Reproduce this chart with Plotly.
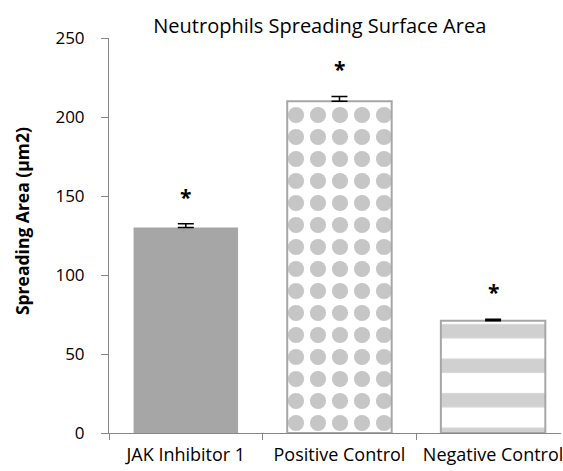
import plotly.graph_objects as go

categories = ["JAK Inhibitor 1", "Positive Control", "Negative Control"]
values = [130, 210, 71]
errors = [2.5, 3, 1]
sig_labels = ["*", "*", "*"]
y_ticks = [0, 50, 100, 150, 200, 250]
y_title = "Spreading Area (µm2)"

FONT = "Open Sans, Noto Sans, sans-serif"

fig = go.Figure()
patterns = [
    dict(shape=""),
    dict(shape=".", size=22, solidity=0.42, fgcolor="#c6c6c6", bgcolor="white", fillmode="replace"),
    dict(shape="-", size=34.5, solidity=0.42, fgcolor="#d0d0d0", bgcolor="white", fillmode="replace"),
]
fills = ["#a6a6a6", "white", "white"]
for i, c in enumerate(categories):
    fig.add_trace(go.Bar(
        x=[c], y=[values[i]],
        width=0.68,
        marker=dict(color=fills[i], pattern=patterns[i],
                    line=dict(color="#a6a6a6", width=2 if i else 0)),
        error_y=dict(type="data", array=[errors[i]], arrayminus=[0], symmetric=False,
                     color="black", thickness=1.5, width=8),
        showlegend=False,
    ))

for i, c in enumerate(categories):
    fig.add_annotation(x=c, y=values[i] + errors[i], yshift=11, text="<b>" + sig_labels[i] + "</b>",
                       showarrow=False, yanchor="bottom",
                       font=dict(size=21, color="black", family=FONT))

fig.add_annotation(xref="paper", yref="paper", x=-0.192, y=0.537, text="<b>" + y_title + "</b>",
                   textangle=-90, showarrow=False, xanchor="center", yanchor="middle",
                   font=dict(size=17.5, color="black", family=FONT))

fig.update_layout(
    width=563, height=471,
    margin=dict(l=109, r=0, t=38, b=38),
    paper_bgcolor="white", plot_bgcolor="white",
    barmode="overlay",
    title=dict(text="Neutrophils Spreading Surface Area", x=0.568, xanchor="center",
               y=0.945, yanchor="middle",
               font=dict(size=20, color="black", family=FONT)),
    font=dict(family=FONT, color="black"),
)
fig.update_xaxes(type="category", categoryorder="array", categoryarray=categories,
                 range=[-0.5, 2.442], showline=True, linecolor="#868686", linewidth=1,
                 ticks="outside", tickson="boundaries", ticklen=6, tickcolor="#868686",
                 tickfont=dict(size=18, family=FONT), showgrid=False,
                 ticklabelstandoff=5)
fig.update_yaxes(range=[0, 250], tickvals=y_ticks, showline=True, linecolor="#868686",
                 linewidth=1, ticks="outside", ticklen=7, tickcolor="#868686",
                 tickfont=dict(size=17, family=FONT), showgrid=False, zeroline=False,
                 ticklabelstandoff=13)

fig.write_html("out.html", config={"displayModeBar": False},
               post_script="document.body.style.margin='0';")
